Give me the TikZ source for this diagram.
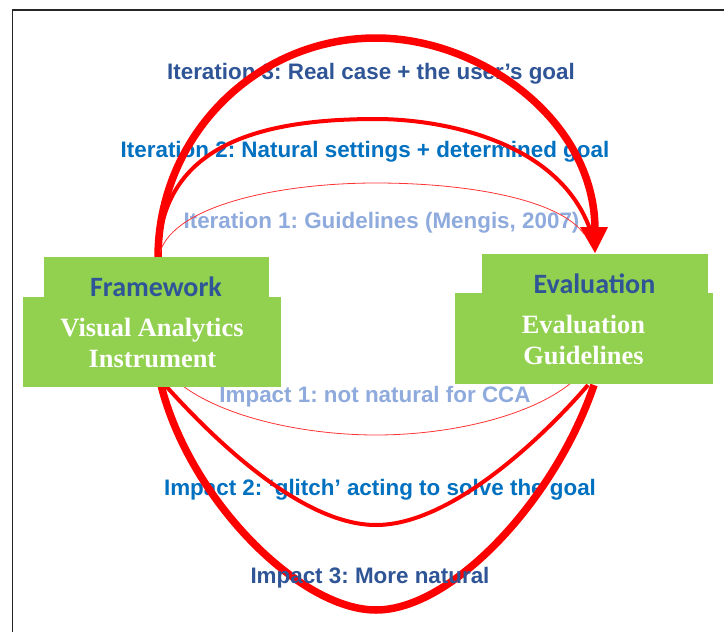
\documentclass[tikz,border=0pt]{standalone}
\usepackage{fontspec}
\newfontfamily\arialf{Liberation Sans}
\newfontfamily\calibf{Carlito}
\newfontfamily\timesf{Liberation Serif}
\definecolor{dblue}{HTML}{2F5597}
\definecolor{mblue}{HTML}{0070C0}
\definecolor{lblue}{HTML}{8FAADC}
\definecolor{vgreen}{HTML}{92D050}
\frenchspacing
\tikzset{
  lbl/.style={inner sep=0pt, anchor=base, font=\arialf\bfseries\fontsize{22.4}{26}\selectfont},
  headlbl/.style={inner sep=0pt, anchor=base, text=dblue, font=\calibf\bfseries\fontsize{28}{32}\selectfont},
  boxlbl/.style={inner sep=0pt, anchor=base, text=white, font=\timesf\bfseries\fontsize{26.4}{30}\selectfont},
  greenbox/.style={fill=vgreen, draw=none, inner sep=0pt, anchor=north west},
  thickarc/.style={red, line width=7.5pt},
  midarc/.style={red, line width=4pt},
  thinarc/.style={red!80, line width=0.8pt},
}
\begin{document}
\begin{tikzpicture}[x=1pt,y=-1pt]
\useasboundingbox (0,0) rectangle (724,632);
\fill[white] (0,0) rectangle (724,632);
\draw[line width=1.2pt, black!85] (12.5,632) -- (12.5,10) -- (724,10);

% labels (under the arcs)
\node[lbl, text=dblue] (it3) at (371,79) {Iteration 3: Real case + the user’s goal};
\node[lbl, text=mblue] (it2) at (365,157) {Iteration 2: Natural settings + determined goal};
\node[lbl, text=lblue] (it1) at (381.5,228) {Iteration 1: Guidelines (Mengis, 2007)};
\node[lbl, text=lblue] (im1) at (375,402) {Impact 1: not natural for CCA};
\node[lbl, text=mblue] (im2) at (380,495) {Impact 2: ‘glitch’ acting to solve the goal};

% arc end points
\coordinate (TL) at (158,258);
\coordinate (TR) at (595,230);
\coordinate (T3) at (376,38);
\coordinate (T2) at (376,119);
\coordinate (T1) at (376,183);
\coordinate (BL) at (161,385);
\coordinate (BR) at (594,385);
\coordinate (B3) at (376,610);
\coordinate (B2) at (376,525);
\coordinate (B1) at (376,435);

% iteration arcs
\draw[thickarc] (TL) .. controls (158,136) and (256,38) .. (T3)
                     .. controls (480,38) and (595,120) .. (TR);
\draw[midarc] (TL) .. controls (160,150) and (250,119) .. (T2)
                   .. controls (440,119) and (560,140) .. (591,232);
\draw[thinarc] (160,252) .. controls (175,205) and (280,183) .. (T1)
                   .. controls (470,183) and (560,200) .. (584,234);
\fill[red] (580,227) -- (608,227) -- (595,253) -- cycle;

% impact arcs
\draw[thickarc] (BL) .. controls (190,500) and (300,610) .. (B3)
                     .. controls (452,610) and (555,500) .. (BR);
\draw[midarc] (165,385) .. controls (210,435) and (300,525) .. (B2)
                   .. controls (452,525) and (545,435) .. (588,385);
\draw[thinarc] (170,375) .. controls (210,415) and (300,435) .. (B1)
                   .. controls (452,435) and (540,415) .. (580,375);

\node[lbl, text=dblue] (im3) at (370,583) {Impact 3: More natural};

% boxes
\node[greenbox, minimum width=225pt, minimum height=40pt] (fwtop) at (44,257) {};
\node[greenbox, minimum width=258pt, minimum height=90pt] (fwbot) at (23,297) {};
\node[greenbox, minimum width=226pt, minimum height=39pt] (evtop) at (482,254) {};
\node[greenbox, minimum width=258pt, minimum height=91pt] (evbot) at (455,293) {};

\node[headlbl] (fw) at (156,296) {Framework};
\node[boxlbl] (va) at (152,336) {Visual Analytics};
\node[boxlbl] (ins) at (152.5,367) {Instrument};
\node[headlbl] (ev) at (594.5,293) {Evaluation};
\node[boxlbl] (ev2) at (583.5,333) {Evaluation};
\node[boxlbl] (gl) at (583.5,364) {Guidelines};
\end{tikzpicture}
\end{document}
